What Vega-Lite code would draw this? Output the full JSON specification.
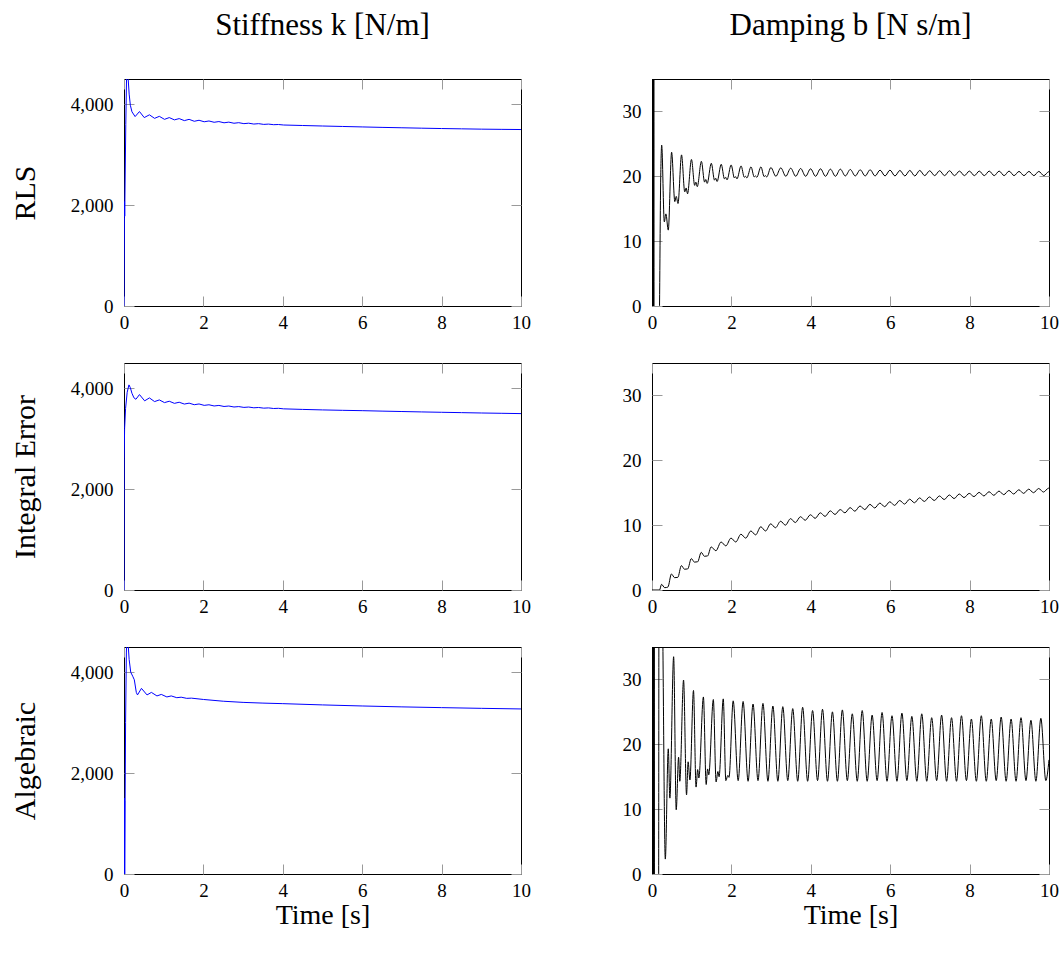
{
  "$schema": "https://vega.github.io/schema/vega-lite/v6.json",
  "padding": {"left": 9, "top": 9, "right": 5, "bottom": 5},
  "background": "#ffffff",
  "bounds": "flush",
  "columns": 2,
  "spacing": {"row": 57, "column": 131},
  "datasets": {
    "rk": [{"t":0,"v":0},{"t":0.01,"v":1750},{"t":0.014,"v":2070},{"t":0.018,"v":1780},{"t":0.022,"v":2050},{"t":0.045,"v":3600},{"t":0.07,"v":4800},{"t":0.1,"v":4560},{"t":0.13,"v":4200},{"t":0.16,"v":3980},{"t":0.2,"v":3850},{"t":0.28,"v":3755},{"t":0.39,"v":3855},{"t":0.51,"v":3735},{"t":0.64,"v":3790},{"t":0.77,"v":3720},{"t":0.89,"v":3760},{"t":1.02,"v":3700},{"t":1.14,"v":3735},{"t":1.27,"v":3690},{"t":1.39,"v":3715},{"t":1.52,"v":3675},{"t":1.64,"v":3700},{"t":1.77,"v":3662},{"t":1.89,"v":3682},{"t":2.02,"v":3652},{"t":2.14,"v":3668},{"t":2.27,"v":3642},{"t":2.39,"v":3656},{"t":2.52,"v":3632},{"t":2.64,"v":3645},{"t":2.77,"v":3623},{"t":2.89,"v":3634},{"t":3.02,"v":3615},{"t":3.14,"v":3624},{"t":3.27,"v":3607},{"t":3.39,"v":3615},{"t":3.52,"v":3600},{"t":3.64,"v":3606},{"t":3.77,"v":3594},{"t":3.89,"v":3598},{"t":4.02,"v":3588},{"t":4.5,"v":3578},{"t":5,"v":3568},{"t":5.5,"v":3559},{"t":6,"v":3550},{"t":6.5,"v":3541},{"t":7,"v":3533},{"t":7.5,"v":3525},{"t":8,"v":3518},{"t":8.5,"v":3512},{"t":9,"v":3506},{"t":9.5,"v":3502},{"t":10,"v":3498}],
    "ik": [{"t":0,"v":0},{"t":0.005,"v":2600},{"t":0.015,"v":3200},{"t":0.04,"v":3600},{"t":0.08,"v":3920},{"t":0.125,"v":4066},{"t":0.16,"v":4010},{"t":0.2,"v":3900},{"t":0.25,"v":3810},{"t":0.3,"v":3781},{"t":0.39,"v":3874},{"t":0.52,"v":3750},{"t":0.64,"v":3808},{"t":0.77,"v":3735},{"t":0.89,"v":3768},{"t":1.02,"v":3715},{"t":1.14,"v":3742},{"t":1.27,"v":3700},{"t":1.39,"v":3722},{"t":1.52,"v":3686},{"t":1.64,"v":3704},{"t":1.77,"v":3673},{"t":1.89,"v":3688},{"t":2.02,"v":3660},{"t":2.14,"v":3672},{"t":2.27,"v":3648},{"t":2.39,"v":3659},{"t":2.52,"v":3638},{"t":2.64,"v":3647},{"t":2.77,"v":3628},{"t":2.89,"v":3636},{"t":3.02,"v":3620},{"t":3.14,"v":3627},{"t":3.27,"v":3612},{"t":3.39,"v":3618},{"t":3.52,"v":3605},{"t":3.64,"v":3610},{"t":3.77,"v":3598},{"t":3.89,"v":3602},{"t":4.02,"v":3591},{"t":4.5,"v":3580},{"t":5,"v":3570},{"t":5.5,"v":3562},{"t":6,"v":3555},{"t":6.5,"v":3546},{"t":7,"v":3538},{"t":7.5,"v":3530},{"t":8,"v":3523},{"t":8.5,"v":3516},{"t":9,"v":3509},{"t":9.5,"v":3503},{"t":10,"v":3497}],
    "ak": [{"t":0,"v":0},{"t":0.003,"v":1500},{"t":0.006,"v":0},{"t":0.009,"v":1500},{"t":0.012,"v":100},{"t":0.015,"v":1450},{"t":0.018,"v":0},{"t":0.04,"v":3000},{"t":0.06,"v":4400},{"t":0.08,"v":4800},{"t":0.1,"v":4600},{"t":0.13,"v":4250},{"t":0.17,"v":4000},{"t":0.22,"v":3920},{"t":0.26,"v":3850},{"t":0.31,"v":3600},{"t":0.34,"v":3550},{"t":0.44,"v":3680},{"t":0.58,"v":3550},{"t":0.69,"v":3600},{"t":0.83,"v":3530},{"t":0.94,"v":3560},{"t":1.08,"v":3510},{"t":1.19,"v":3530},{"t":1.33,"v":3495},{"t":1.44,"v":3505},{"t":1.58,"v":3482},{"t":1.7,"v":3486},{"t":2,"v":3460},{"t":2.5,"v":3425},{"t":3,"v":3402},{"t":3.5,"v":3388},{"t":4,"v":3377},{"t":5,"v":3352},{"t":6,"v":3331},{"t":7,"v":3313},{"t":8,"v":3298},{"t":9,"v":3284},{"t":10,"v":3272}],
    "rb": [{"t":0,"v":0},{"t":0.005,"v":60},{"t":0.01,"v":-40},{"t":0.015,"v":70},{"t":0.02,"v":-50},{"t":0.025,"v":55},{"t":0.03,"v":-30},{"t":0.035,"v":45},{"t":0.04,"v":-25},{"t":0.045,"v":40},{"t":0.05,"v":-10},{"t":0.12,"v":-15},{"t":0.18,"v":-5},{"t":0.22,"v":20},{"t":0.244,"v":24.8},{"t":0.31,"v":12.97},{"t":0.35,"v":14.2},{"t":0.41,"v":11.7},{"t":0.494,"v":23.7},{"t":0.575,"v":16.1},{"t":0.61,"v":16.9},{"t":0.655,"v":15.8},{"t":0.744,"v":23.3},{"t":0.825,"v":17.6},{"t":0.86,"v":18.2},{"t":0.895,"v":17.3},{"t":0.994,"v":22.6},{"t":1.075,"v":18.6},{"t":1.105,"v":19.1},{"t":1.14,"v":18.4},{"t":1.244,"v":22.3},{"t":1.325,"v":19.1},{"t":1.355,"v":19.5},{"t":1.39,"v":18.9},{"t":1.494,"v":22.0},{"t":1.575,"v":19.4},{"t":1.605,"v":19.7},{"t":1.64,"v":19.2},{"t":1.744,"v":21.85},{"t":1.825,"v":19.6},{"t":1.855,"v":19.85},{"t":1.89,"v":19.45},{"t":1.994,"v":21.75},{"t":2.075,"v":19.75},{"t":2.105,"v":19.95},{"t":2.14,"v":19.6},{"t":2.244,"v":21.6},{"t":2.325,"v":19.85},{"t":2.355,"v":20.0},{"t":2.39,"v":19.75},{"t":2.494,"v":21.45},{"t":2.575,"v":19.9},{"t":2.605,"v":20.05},{"t":2.64,"v":19.85},{"t":2.744,"v":21.45},{"t":2.825,"v":19.95},{"t":2.855,"v":20.1},{"t":2.89,"v":19.9},{"t":2.994,"v":21.35},{"t":3.12,"v":20.0},{"t":3.244,"v":21.3},{"t":3.37,"v":20.0},{"t":3.494,"v":21.25},{"t":3.62,"v":20.0},{"t":3.744,"v":21.2},{"t":3.87,"v":20.0},{"t":3.994,"v":21.15},{"t":4.12,"v":20.0},{"t":4.244,"v":21.15},{"t":4.37,"v":20.0},{"t":4.494,"v":21.1},{"t":4.62,"v":20.0},{"t":4.744,"v":21.1},{"t":4.87,"v":20.05},{"t":4.994,"v":21.05},{"t":5.12,"v":20.05},{"t":5.244,"v":21.0},{"t":5.37,"v":20.05},{"t":5.494,"v":21.0},{"t":5.62,"v":20.05},{"t":5.744,"v":20.95},{"t":5.87,"v":20.05},{"t":5.994,"v":20.95},{"t":6.12,"v":20.05},{"t":6.244,"v":20.9},{"t":6.37,"v":20.05},{"t":6.494,"v":20.9},{"t":6.62,"v":20.05},{"t":6.744,"v":20.9},{"t":6.87,"v":20.1},{"t":6.994,"v":20.85},{"t":7.12,"v":20.1},{"t":7.244,"v":20.85},{"t":7.37,"v":20.1},{"t":7.494,"v":20.85},{"t":7.62,"v":20.1},{"t":7.744,"v":20.8},{"t":7.87,"v":20.1},{"t":7.994,"v":20.8},{"t":8.12,"v":20.1},{"t":8.244,"v":20.8},{"t":8.37,"v":20.1},{"t":8.494,"v":20.8},{"t":8.62,"v":20.1},{"t":8.744,"v":20.8},{"t":8.87,"v":20.1},{"t":8.994,"v":20.8},{"t":9.12,"v":20.1},{"t":9.244,"v":20.75},{"t":9.37,"v":20.1},{"t":9.494,"v":20.75},{"t":9.62,"v":20.1},{"t":9.744,"v":20.75},{"t":9.87,"v":20.1},{"t":9.994,"v":20.7},{"t":10,"v":20.65}],
    "ib": [{"t":0,"v":0},{"t":0.19,"v":0},{"t":0.24,"v":0.87},{"t":0.32,"v":0.36},{"t":0.4,"v":0.45},{"t":0.49,"v":2.47},{"t":0.57,"v":1.9},{"t":0.65,"v":1.95},{"t":0.74,"v":3.76},{"t":0.82,"v":3.2},{"t":0.9,"v":3.25},{"t":0.99,"v":4.84},{"t":1.07,"v":4.3},{"t":1.15,"v":4.35},{"t":1.24,"v":5.8},{"t":1.32,"v":5.2},{"t":1.4,"v":5.25},{"t":1.49,"v":6.64},{"t":1.61,"v":6.05},{"t":1.74,"v":7.4},{"t":1.86,"v":6.8},{"t":1.99,"v":8.0},{"t":2.11,"v":7.4},{"t":2.24,"v":8.6},{"t":2.36,"v":8.0},{"t":2.49,"v":9.1},{"t":2.61,"v":8.5},{"t":2.74,"v":9.75},{"t":2.86,"v":9.1},{"t":2.99,"v":10.2},{"t":3.11,"v":9.6},{"t":3.24,"v":10.6},{"t":3.36,"v":10.0},{"t":3.49,"v":11.0},{"t":3.61,"v":10.4},{"t":3.74,"v":11.3},{"t":3.86,"v":10.75},{"t":3.99,"v":11.6},{"t":4.11,"v":11.05},{"t":4.24,"v":11.9},{"t":4.36,"v":11.35},{"t":4.49,"v":12.2},{"t":4.61,"v":11.65},{"t":4.74,"v":12.4},{"t":4.86,"v":11.9},{"t":4.99,"v":12.7},{"t":5.11,"v":12.15},{"t":5.24,"v":12.95},{"t":5.36,"v":12.4},{"t":5.49,"v":13.2},{"t":5.61,"v":12.65},{"t":5.74,"v":13.4},{"t":5.86,"v":12.85},{"t":5.99,"v":13.6},{"t":6.11,"v":13.05},{"t":6.24,"v":13.8},{"t":6.36,"v":13.25},{"t":6.49,"v":14.0},{"t":6.61,"v":13.45},{"t":6.74,"v":14.2},{"t":6.86,"v":13.65},{"t":6.99,"v":14.35},{"t":7.11,"v":13.8},{"t":7.24,"v":14.5},{"t":7.36,"v":13.95},{"t":7.49,"v":14.65},{"t":7.61,"v":14.1},{"t":7.74,"v":14.8},{"t":7.86,"v":14.25},{"t":7.99,"v":14.9},{"t":8.11,"v":14.4},{"t":8.24,"v":15.05},{"t":8.36,"v":14.5},{"t":8.49,"v":15.15},{"t":8.61,"v":14.6},{"t":8.74,"v":15.25},{"t":8.86,"v":14.7},{"t":8.99,"v":15.35},{"t":9.11,"v":14.8},{"t":9.24,"v":15.45},{"t":9.36,"v":14.9},{"t":9.49,"v":15.55},{"t":9.61,"v":15.0},{"t":9.74,"v":15.65},{"t":9.86,"v":15.1},{"t":9.99,"v":15.7},{"t":10,"v":15.65}],
    "ab": [{"t":0,"v":0},{"t":0.006,"v":70},{"t":0.012,"v":-50},{"t":0.018,"v":60},{"t":0.024,"v":-40},{"t":0.03,"v":50},{"t":0.036,"v":-30},{"t":0.042,"v":45},{"t":0.048,"v":-20},{"t":0.054,"v":40},{"t":0.06,"v":-10},{"t":0.12,"v":-15},{"t":0.165,"v":-10},{"t":0.178,"v":60},{"t":0.24,"v":55},{"t":0.27,"v":38},{"t":0.335,"v":2.3},{"t":0.41,"v":19.3},{"t":0.45,"v":11.7},{"t":0.545,"v":33.5},{"t":0.61,"v":9.9},{"t":0.67,"v":18.0},{"t":0.7,"v":14.3},{"t":0.795,"v":29.9},{"t":0.87,"v":12.2},{"t":0.91,"v":17.3},{"t":0.955,"v":14.5},{"t":1.045,"v":28.3},{"t":1.11,"v":13.4},{"t":1.15,"v":16.1},{"t":1.18,"v":14.8},{"t":1.295,"v":27.3},{"t":1.365,"v":13.8},{"t":1.4,"v":16.2},{"t":1.43,"v":15.3},{"t":1.545,"v":26.9},{"t":1.615,"v":14.2},{"t":1.66,"v":15.8},{"t":1.69,"v":15.0},{"t":1.795,"v":27.0},{"t":1.86,"v":14.4},{"t":1.91,"v":15.2},{"t":1.94,"v":14.9},{"t":2.045,"v":26.7},{"t":2.17,"v":14.4},{"t":2.295,"v":26.6},{"t":2.42,"v":14.3},{"t":2.545,"v":26.2},{"t":2.67,"v":14.4},{"t":2.795,"v":26.3},{"t":2.92,"v":14.3},{"t":3.045,"v":25.9},{"t":3.17,"v":14.3},{"t":3.295,"v":25.8},{"t":3.42,"v":14.4},{"t":3.545,"v":25.5},{"t":3.67,"v":14.3},{"t":3.795,"v":25.7},{"t":3.92,"v":14.3},{"t":4.045,"v":25.2},{"t":4.17,"v":14.4},{"t":4.295,"v":25.4},{"t":4.42,"v":14.3},{"t":4.545,"v":25.0},{"t":4.67,"v":14.3},{"t":4.795,"v":25.3},{"t":4.92,"v":14.4},{"t":5.045,"v":24.7},{"t":5.17,"v":14.3},{"t":5.295,"v":25.2},{"t":5.42,"v":14.3},{"t":5.545,"v":24.5},{"t":5.67,"v":14.4},{"t":5.795,"v":24.9},{"t":5.92,"v":14.3},{"t":6.045,"v":24.4},{"t":6.17,"v":14.3},{"t":6.295,"v":24.8},{"t":6.42,"v":14.4},{"t":6.545,"v":24.3},{"t":6.67,"v":14.3},{"t":6.795,"v":24.7},{"t":6.92,"v":14.3},{"t":7.045,"v":24.1},{"t":7.17,"v":14.4},{"t":7.295,"v":24.5},{"t":7.42,"v":14.3},{"t":7.545,"v":24.1},{"t":7.67,"v":14.3},{"t":7.795,"v":24.4},{"t":7.92,"v":14.4},{"t":8.045,"v":23.9},{"t":8.17,"v":14.3},{"t":8.295,"v":24.4},{"t":8.42,"v":14.3},{"t":8.545,"v":23.9},{"t":8.67,"v":14.4},{"t":8.795,"v":24.2},{"t":8.92,"v":14.3},{"t":9.045,"v":23.9},{"t":9.17,"v":14.3},{"t":9.295,"v":24.1},{"t":9.42,"v":14.4},{"t":9.545,"v":23.7},{"t":9.67,"v":14.3},{"t":9.795,"v":24.0},{"t":9.92,"v":14.4},{"t":10,"v":17.6}]
  },
  "concat": [
    {
      "width": 397, "height": 227,
      "title": {"text": "Stiffness k [N/m]"},
      "data": {"name": "rk"},
      "layer": [
        {"mark": {"type": "line", "color": "#0000ff", "strokeWidth": 1, "clip": true},
         "encoding": {
           "x": {"field": "t", "type": "quantitative", "scale": {"domain": [0, 10], "nice": false}, "axis": {"values": [0,2,4,6,8,10], "title": null}},
           "y": {"field": "v", "type": "quantitative", "scale": {"domain": [0, 4500], "nice": false}, "axis": {"values": [0,2000,4000], "format": ",.0f", "title": "RLS"}}}},
        {"mark": {"type": "line", "opacity": 0, "clip": true},
         "encoding": {
           "x": {"field": "t", "type": "quantitative", "scale": {"domain": [0, 10], "nice": false}, "axis": {"orient": "top", "values": [0,2,4,6,8,10], "labels": false, "title": null}},
           "y": {"field": "v", "type": "quantitative", "scale": {"domain": [0, 4500], "nice": false}, "axis": {"orient": "right", "values": [0,2000,4000], "labels": false, "title": null}}}}
      ],
      "resolve": {"axis": {"x": "independent", "y": "independent"}}
    },
    {
      "width": 397, "height": 227,
      "title": {"text": "Damping b [N s/m]"},
      "data": {"name": "rb"},
      "layer": [
        {"mark": {"type": "line", "color": "#000000", "strokeWidth": 1, "clip": true, "interpolate": "monotone"},
         "encoding": {
           "x": {"field": "t", "type": "quantitative", "scale": {"domain": [0, 10], "nice": false}, "axis": {"values": [0,2,4,6,8,10], "title": null}},
           "y": {"field": "v", "type": "quantitative", "scale": {"domain": [0, 35], "nice": false}, "axis": {"values": [0,10,20,30], "format": ".0f", "title": null}}}},
        {"mark": {"type": "line", "opacity": 0, "clip": true},
         "encoding": {
           "x": {"field": "t", "type": "quantitative", "scale": {"domain": [0, 10], "nice": false}, "axis": {"orient": "top", "values": [0,2,4,6,8,10], "labels": false, "title": null}},
           "y": {"field": "v", "type": "quantitative", "scale": {"domain": [0, 35], "nice": false}, "axis": {"orient": "right", "values": [0,10,20,30], "labels": false, "title": null}}}}
      ],
      "resolve": {"axis": {"x": "independent", "y": "independent"}}
    },
    {
      "width": 397, "height": 227,
      "data": {"name": "ik"},
      "layer": [
        {"mark": {"type": "line", "color": "#0000ff", "strokeWidth": 1, "clip": true},
         "encoding": {
           "x": {"field": "t", "type": "quantitative", "scale": {"domain": [0, 10], "nice": false}, "axis": {"values": [0,2,4,6,8,10], "title": null}},
           "y": {"field": "v", "type": "quantitative", "scale": {"domain": [0, 4500], "nice": false}, "axis": {"values": [0,2000,4000], "format": ",.0f", "title": "Integral Error"}}}},
        {"mark": {"type": "line", "opacity": 0, "clip": true},
         "encoding": {
           "x": {"field": "t", "type": "quantitative", "scale": {"domain": [0, 10], "nice": false}, "axis": {"orient": "top", "values": [0,2,4,6,8,10], "labels": false, "title": null}},
           "y": {"field": "v", "type": "quantitative", "scale": {"domain": [0, 4500], "nice": false}, "axis": {"orient": "right", "values": [0,2000,4000], "labels": false, "title": null}}}}
      ],
      "resolve": {"axis": {"x": "independent", "y": "independent"}}
    },
    {
      "width": 397, "height": 227,
      "data": {"name": "ib"},
      "layer": [
        {"mark": {"type": "line", "color": "#000000", "strokeWidth": 1, "clip": true, "interpolate": "monotone"},
         "encoding": {
           "x": {"field": "t", "type": "quantitative", "scale": {"domain": [0, 10], "nice": false}, "axis": {"values": [0,2,4,6,8,10], "title": null}},
           "y": {"field": "v", "type": "quantitative", "scale": {"domain": [0, 35], "nice": false}, "axis": {"values": [0,10,20,30], "format": ".0f", "title": null}}}},
        {"mark": {"type": "line", "opacity": 0, "clip": true},
         "encoding": {
           "x": {"field": "t", "type": "quantitative", "scale": {"domain": [0, 10], "nice": false}, "axis": {"orient": "top", "values": [0,2,4,6,8,10], "labels": false, "title": null}},
           "y": {"field": "v", "type": "quantitative", "scale": {"domain": [0, 35], "nice": false}, "axis": {"orient": "right", "values": [0,10,20,30], "labels": false, "title": null}}}}
      ],
      "resolve": {"axis": {"x": "independent", "y": "independent"}}
    },
    {
      "width": 397, "height": 227,
      "data": {"name": "ak"},
      "layer": [
        {"mark": {"type": "line", "color": "#0000ff", "strokeWidth": 1, "clip": true},
         "encoding": {
           "x": {"field": "t", "type": "quantitative", "scale": {"domain": [0, 10], "nice": false}, "axis": {"values": [0,2,4,6,8,10], "title": "Time [s]"}},
           "y": {"field": "v", "type": "quantitative", "scale": {"domain": [0, 4500], "nice": false}, "axis": {"values": [0,2000,4000], "format": ",.0f", "title": "Algebraic"}}}},
        {"mark": {"type": "line", "opacity": 0, "clip": true},
         "encoding": {
           "x": {"field": "t", "type": "quantitative", "scale": {"domain": [0, 10], "nice": false}, "axis": {"orient": "top", "values": [0,2,4,6,8,10], "labels": false, "title": null}},
           "y": {"field": "v", "type": "quantitative", "scale": {"domain": [0, 4500], "nice": false}, "axis": {"orient": "right", "values": [0,2000,4000], "labels": false, "title": null}}}}
      ],
      "resolve": {"axis": {"x": "independent", "y": "independent"}}
    },
    {
      "width": 397, "height": 227,
      "data": {"name": "ab"},
      "layer": [
        {"mark": {"type": "line", "color": "#000000", "strokeWidth": 1, "clip": true, "interpolate": "monotone"},
         "encoding": {
           "x": {"field": "t", "type": "quantitative", "scale": {"domain": [0, 10], "nice": false}, "axis": {"values": [0,2,4,6,8,10], "title": "Time [s]"}},
           "y": {"field": "v", "type": "quantitative", "scale": {"domain": [0, 35], "nice": false}, "axis": {"values": [0,10,20,30], "format": ".0f", "title": null}}}},
        {"mark": {"type": "line", "opacity": 0, "clip": true},
         "encoding": {
           "x": {"field": "t", "type": "quantitative", "scale": {"domain": [0, 10], "nice": false}, "axis": {"orient": "top", "values": [0,2,4,6,8,10], "labels": false, "title": null}},
           "y": {"field": "v", "type": "quantitative", "scale": {"domain": [0, 35], "nice": false}, "axis": {"orient": "right", "values": [0,10,20,30], "labels": false, "title": null}}}}
      ],
      "resolve": {"axis": {"x": "independent", "y": "independent"}}
    }
  ],
  "config": {
    "font": "Liberation Serif",
    "view": {"stroke": "#000000", "strokeWidth": 1},
    "axis": {
      "domain": false, "grid": false,
      "tickColor": "#9a9a9a", "tickSize": -10, "tickWidth": 1,
      "labelFont": "Liberation Serif", "labelFontSize": 19, "labelColor": "#000000",
      "labelFlush": false, "labelOverlap": false,
      "titleFont": "Liberation Serif", "titleFontWeight": "normal", "titleColor": "#000000"
    },
    "axisX": {"labelPadding": 17, "titlePadding": 1, "titleFontSize": 28},
    "axisY": {"labelPadding": 21, "titlePadding": 30, "titleFontSize": 30},
    "title": {"font": "Liberation Serif", "fontSize": 31, "fontWeight": "normal", "color": "#000000", "offset": 37, "anchor": "middle", "frame": "group"}
  }
}
